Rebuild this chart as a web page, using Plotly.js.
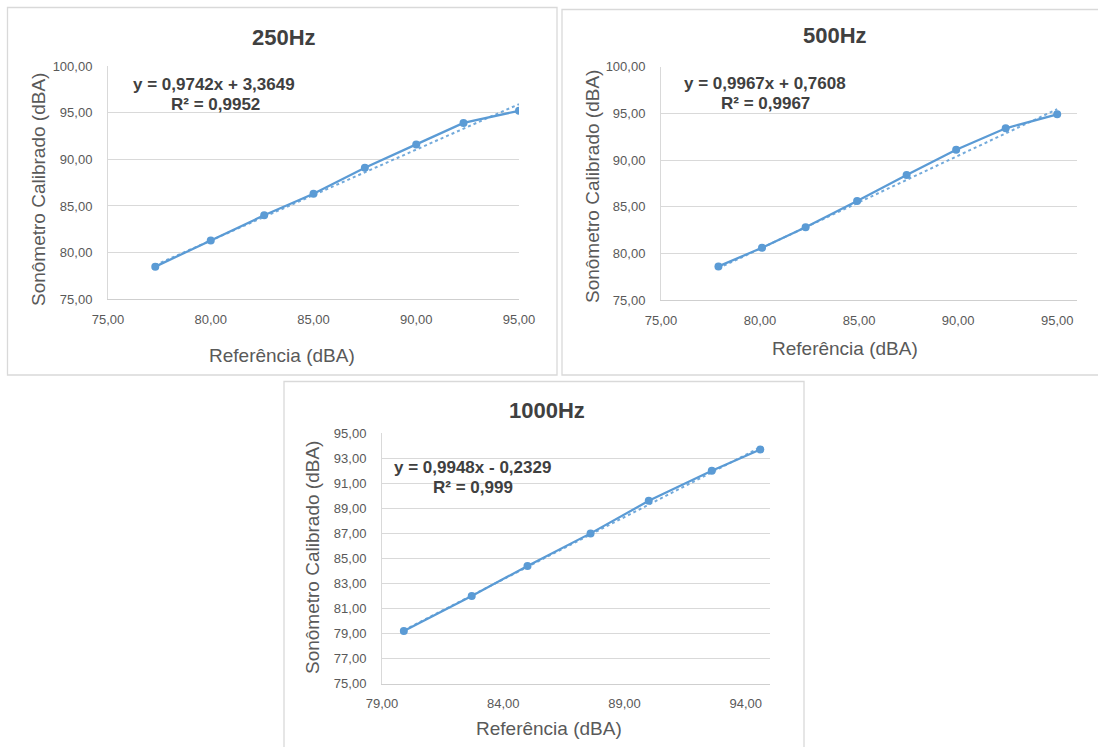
<!DOCTYPE html>
<html>
<head>
<meta charset="utf-8">
<script src="https://cdn.plot.ly/plotly-3.0.1.min.js"></script>
<style>html,body{margin:0;padding:0;background:#fff;}#chart{width:1098px;height:747px;}</style>
</head>
<body>
<div id="chart"></div>
<script>
// ---- data ----
const panelTitles = ["250Hz", "500Hz", "1000Hz"];
const ref250 = [77.3, 80.0, 82.6, 85.0, 87.5, 90.0, 92.3, 95.0];
const son250 = [78.5, 81.3, 84.0, 86.3, 89.1, 91.6, 93.9, 95.2];
const ref500 = [77.9, 80.1, 82.3, 84.9, 87.4, 89.9, 92.4, 95.0];
const son500 = [78.6, 80.6, 82.8, 85.6, 88.4, 91.1, 93.4, 94.9];
const ref1000 = [79.9, 82.7, 85.0, 87.6, 90.0, 92.6, 94.6];
const son1000 = [79.2, 82.0, 84.4, 87.0, 89.6, 92.0, 93.7];
const slopes = [0.9742, 0.9967, 0.9948];
const intercepts = [3.3649, 0.7608, -0.2329];
const r2 = ["0,9952", "0,9967", "0,999"];
const xTitle = "Referência (dBA)";
const yTitle = "Sonômetro Calibrado (dBA)";

const W = 1098, H = 747;
const px = v => v / W;
const py = v => 1 - v / H;
const blue = "#5B9BD5";
const grid = "#D9D9D9";
const txt = "#595959";
const dark = "#404040";
const fam = "Liberation Sans, Arial, sans-serif";

// pixel geometry of each panel
const geo = [
  {x0:108, x1:519, yt:66, yb:299.3, xr:[75,95], x0tick:75, yr:[75,100], dy:5,
   frame:[7.5,7.5,557,375], title:[284,38], eq:[214,85], r2p:[215,105], xt:[282,356], yt2:[38,190]},
  {x0:661, x1:1077, yt:66.7, yb:300, xr:[75,96], x0tick:75, yr:[75,100], dy:5,
   frame:[562,9.5,1110,375], title:[835,35], eq:[765,84], r2p:[765,104], xt:[845,348], yt2:[592,187]},
  {x0:382, x1:770, yt:433.3, yb:683.5, xr:[79,95], x0tick:79, yr:[75,95], dy:2,
   frame:[284,381.5,804,760], title:[547,411], eq:[472,467], r2p:[473,487], xt:[549,728], yt2:[312,558]}
];
const xs = [ref250, ref500, ref1000];
const ys = [son250, son500, son1000];

const fmt = v => Math.abs(v).toFixed(4).replace('.', ',');

const data = [];
const layout = {
  width: W, height: H, margin:{l:0,r:0,t:0,b:0},
  paper_bgcolor:"#fff", plot_bgcolor:"#fff",
  separators: ", ",
  showlegend:false,
  font:{family:fam, color:txt},
  shapes:[], annotations:[]
};

geo.forEach((g, i) => {
  const sfx = i === 0 ? "" : String(i + 1);
  const xa = "x" + sfx, ya = "y" + sfx;
  data.push({
    x: xs[i], y: ys[i], xaxis: xa, yaxis: ya, type:"scatter", mode:"lines+markers",
    line:{color:blue, width:2.25}, marker:{color:blue, size:8}, hoverinfo:"skip"
  });
  const xmin = Math.min(...xs[i]), xmax = Math.max(...xs[i]);
  data.push({
    x:[xmin, xmax], y:[slopes[i]*xmin + intercepts[i], slopes[i]*xmax + intercepts[i]],
    xaxis: xa, yaxis: ya, type:"scatter", mode:"lines",
    line:{color:blue, width:2, dash:"dot"}, opacity:0.85, hoverinfo:"skip"
  });
  layout["xaxis" + sfx] = {
    domain:[px(g.x0), px(g.x1)], range:g.xr, anchor:ya,
    tick0:g.x0tick, dtick:5, tickformat:".2f", showgrid:false, zeroline:false,
    showline:true, linecolor:"#CFCFCF", linewidth:1, ticks:"",
    ticklabelstandoff:8, tickfont:{size:13, color:txt, family:fam}, fixedrange:true
  };
  layout["yaxis" + sfx] = {
    domain:[py(g.yb), py(g.yt)], range:g.yr, anchor:xa,
    tick0:g.yr[0], dtick:g.dy, tickformat:".2f", showgrid:true, gridcolor:grid, gridwidth:1,
    zeroline:false, showline:true, linecolor:"#D9D9D9", linewidth:1, ticks:"",
    ticklabelstandoff:12, tickfont:{size:13, color:txt, family:fam}, fixedrange:true
  };
  layout.shapes.push({type:"rect", xref:"paper", yref:"paper",
    x0:px(g.frame[0]), x1:px(g.frame[2]), y0:py(g.frame[3]), y1:py(g.frame[1]),
    line:{color:"#D9D9D9", width:1.3}, fillcolor:"rgba(0,0,0,0)", layer:"below"});
  const ann = (t, p, size, bold, color, extra) => Object.assign({
    text: bold ? "<b>" + t + "</b>" : t, xref:"paper", yref:"paper",
    x:px(p[0]), y:py(p[1]), xanchor:"center", yanchor:"middle", showarrow:false,
    font:{size:size, color:color, family:fam}
  }, extra || {});
  layout.annotations.push(ann(panelTitles[i], g.title, 22, true, dark));
  const eq = "y = " + fmt(slopes[i]) + "x " + (intercepts[i] < 0 ? "- " : "+ ") + fmt(intercepts[i]);
  layout.annotations.push(ann(eq, g.eq, 17, true, dark));
  layout.annotations.push(ann("R² = " + r2[i], g.r2p, 17, true, dark));
  layout.annotations.push(ann(xTitle, g.xt, 19, false, txt));
  layout.annotations.push(ann(yTitle, g.yt2, 19, false, txt, {textangle:-90}));
});

Plotly.newPlot("chart", data, layout, {staticPlot:true, displayModeBar:false});
</script>
</body>
</html>
